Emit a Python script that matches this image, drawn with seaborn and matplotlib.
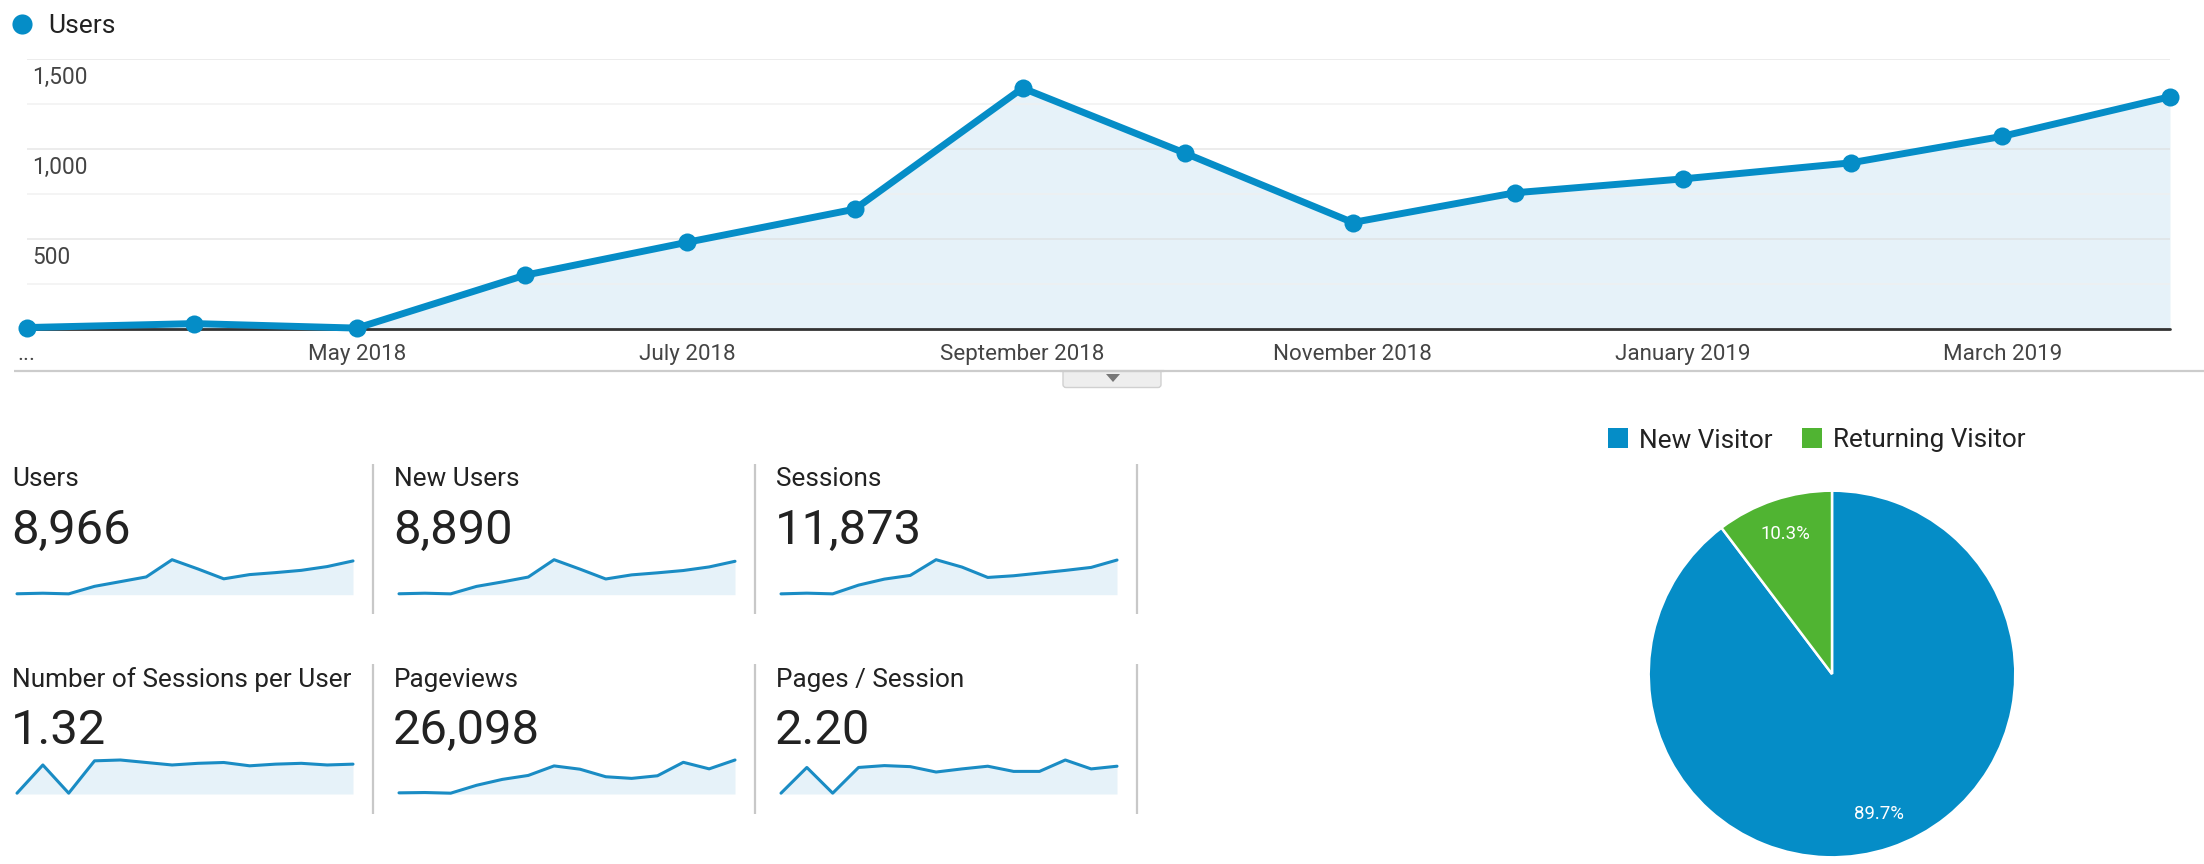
import matplotlib
matplotlib.use("Agg")
import matplotlib.pyplot as plt
import pandas as pd
import seaborn as sns
from matplotlib.patches import Polygon, Rectangle, FancyBboxPatch

months = pd.date_range("2018-03-01", "2019-04-01", freq="MS")
users = [8, 30, 5, 298, 481, 665, 1337, 976, 591, 756, 833, 922, 1069, 1289]
new_users = [8, 30, 5, 296, 470, 660, 1337, 970, 585, 745, 825, 915, 1055, 1275]
sessions = [46, 78, 46, 450, 729, 899, 1628, 1287, 806, 884, 1008, 1132, 1271, 1612]
sessions_per_user = [1.0, 1.34, 1.0, 1.39, 1.40, 1.37, 1.34, 1.36, 1.37, 1.33, 1.35, 1.36, 1.34, 1.35]
pageviews = [108, 144, 72, 936, 1584, 2016, 3060, 2700, 1872, 1692, 1980, 3456, 2736, 3708]
pages_per_session = [1.0, 2.24, 1.0, 2.24, 2.33, 2.28, 2.02, 2.17, 2.30, 2.05, 2.05, 2.60, 2.17, 2.30]
tick_dates = ["2018-03-01", "2018-05-01", "2018-07-01", "2018-09-01", "2018-11-01", "2019-01-01", "2019-03-01"]
tick_labels = ["...", "May 2018", "July 2018", "September 2018", "November 2018", "January 2019", "March 2019"]
y_major = [500, 1000, 1500]
y_minor = [250, 750, 1250]
y_labels = ["500", "1,000", "1,500"]
metric_titles = ["Users", "New Users", "Sessions", "Number of Sessions per User", "Pageviews", "Pages / Session"]
metric_values = ["8,966", "8,890", "11,873", "1.32", "26,098", "2.20"]
metric_series = [users, new_users, sessions, sessions_per_user, pageviews, pages_per_session]
visitor_types = ["New Visitor", "Returning Visitor"]
visitor_shares = [89.7, 10.3]

BLUE, GREEN, FILL = "#058dc7", "#50b432", "#e6f2f9"
W, H = 2204, 864

sns.set_theme(style="white")
plt.rcParams["font.family"] = ["Roboto", "DejaVu Sans"]
fig = plt.figure(figsize=(W / 100, H / 100), dpi=100, facecolor="white")


def px_axes(x0, y0, x1, y1, **kw):
    return fig.add_axes([x0 / W, 1 - y1 / H, (x1 - x0) / W, (y1 - y0) / H], **kw)


# overlay in pixel coordinates for the page furniture
ov = px_axes(0, 0, W, H)
ov.set_xlim(0, W)
ov.set_ylim(H, 0)
ov.axis("off")
ov.set_zorder(0)

# main chart
ax = px_axes(26.7, 58.7, 2170, 329)
ax.patch.set_alpha(0)
ax.set_zorder(2)
df = pd.DataFrame({"month": months, "users": users})
ax.fill_between(df["month"], df["users"], 0, color=FILL, lw=0, zorder=1)
for v in y_minor:
    ax.axhline(v, color="#f0f0f0", lw=1.4, alpha=0.7, zorder=1.5)
for v in y_major:
    ax.axhline(v, color="#dcdcdc", lw=1.4, alpha=0.55, zorder=1.5)
ax.axhline(0, color="#333333", lw=2, zorder=2, clip_on=False)
sns.lineplot(data=df, x="month", y="users", ax=ax, color=BLUE, lw=5.0, marker="o",
             markersize=13, markeredgewidth=0, clip_on=False, zorder=3, legend=False)
ax.set_xlim(months[0], months[-1])
ax.set_ylim(0, 1500)
ax.set_xlabel("")
ax.set_ylabel("")
ax.set_xticks(pd.to_datetime(tick_dates))
ax.set_xticklabels(tick_labels, fontsize=16.1, color="#444444")
ax.tick_params(axis="x", length=0, pad=10.5)
ax.set_yticks([])
for s in ax.spines.values():
    s.set_visible(False)
for v, lab in zip(y_major, y_labels):
    ax.annotate(lab, (0, v), xycoords=("axes fraction", "data"), xytext=(3.8, -13.5),
                textcoords="offset points", ha="left", va="center", fontsize=16.3, color="#444444")

# legend of the main chart
ov.plot([22], [24], "o", color=BLUE, ms=14.5, mew=0)
ov.text(48, 26, "Users", fontsize=19, color="#222222", va="center", ha="left")

# separator below main chart with its handle
ov.plot([14, W], [371, 371], color="#cccccc", lw=1.6, solid_capstyle="butt")
ov.add_patch(FancyBboxPatch((1063, 366), 98, 21.5, boxstyle="round,pad=0,rounding_size=3",
                            fc="#eeeeee", ec="#d0d0d0", lw=1, zorder=1))
ov.add_patch(Rectangle((1060, 360), 104, 11, fc="white", ec="none", zorder=1.1))
ov.plot([1060, 1164], [371, 371], color="#cccccc", lw=1.6, zorder=1.2)
ov.add_patch(Polygon([[1106, 374], [1120, 374], [1113, 382]], fc="#777777", ec="none", zorder=1.3))

# metric tiles
col_x = [(17, 353), (399, 735), (781, 1117)]
sep_x = [372.6, 755, 1137]
row_y = [(559.7, 594.7), (760, 794)]
title_y = [477, 677]
value_y = [527, 727]
seq = list(range(14))
for i, (title, value, series) in enumerate(zip(metric_titles, metric_values, metric_series)):
    r, c = divmod(i, 3)
    x0, x1 = col_x[c]
    y0, y1 = row_y[r]
    ov.text(x0 - 5, title_y[r] + 2.5, title, fontsize=18.8, color="#222222", va="center", ha="left")
    ov.text(x0 - 6, value_y[r] + 3.5, value, fontsize=35.2, color="#222222", va="center", ha="left")
    ov.plot([sep_x[c]] * 2, [title_y[r] - 13, title_y[r] + 137], color="#c8c8c8", lw=1.6,
            solid_capstyle="butt")
    sp = px_axes(x0, y0, x1, y1)
    sp.set_zorder(2)
    sp.patch.set_alpha(0)
    lo, hi = min(series), max(series)
    bottom = lo - (hi - lo) * 0.025
    sp.fill_between(seq, series, bottom, color=FILL, lw=0, zorder=1)
    sns.lineplot(x=seq, y=series, ax=sp, color="#1a8cc4", lw=2.2, clip_on=False, zorder=2, legend=False)
    sp.set_xlim(0, 13)
    sp.set_ylim(bottom, hi)
    sp.axis("off")

# pie
cx, cy, rad = 1832, 674, 183.3
pie_ax = px_axes(cx - rad, cy - rad, cx + rad, cy + rad)
pie_ax.set_zorder(2)
wedges, _, autotexts = pie_ax.pie(visitor_shares, colors=[BLUE, GREEN], startangle=90, counterclock=False,
                                  radius=1, autopct="%.1f%%", pctdistance=0.805,
                                  wedgeprops={"edgecolor": "white", "linewidth": 1.8})
for t in autotexts:
    t.set_color("white")
    t.set_fontsize(13.4)
pie_ax.set_xlim(-1, 1)
pie_ax.set_ylim(-1, 1)

# pie legend
for name, col, sq, tx in zip(visitor_types, [BLUE, GREEN], [1608, 1802], [1639, 1833]):
    ov.add_patch(Rectangle((sq, 428), 20, 20, fc=col, ec="none"))
    ov.text(tx, 440.5, name, fontsize=18.8, color="#222222", va="center", ha="left")

fig.savefig("out.png", dpi=100, facecolor="white")
